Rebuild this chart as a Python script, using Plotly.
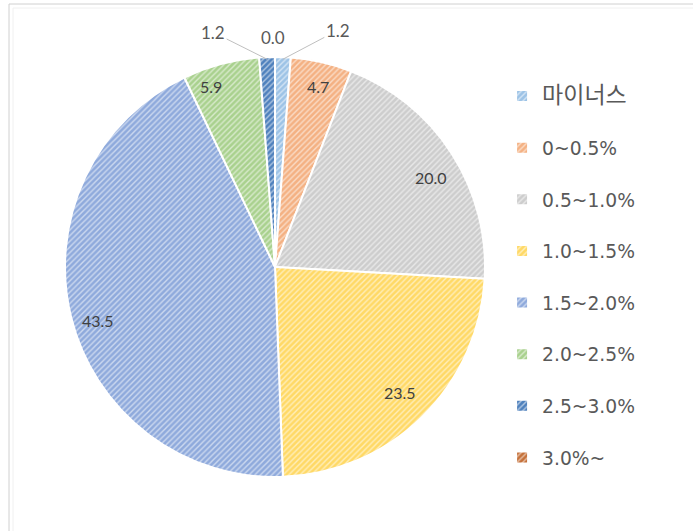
import math
import plotly.graph_objects as go

# ---- data ----
categories = ["마이너스", "0~0.5%", "0.5~1.0%", "1.0~1.5%", "1.5~2.0%", "2.0~2.5%", "2.5~3.0%", "3.0%~"]
values = [1.2, 4.7, 20.0, 23.5, 43.5, 5.9, 1.2, 0.0]
value_labels = ["1.2", "4.7", "20.0", "23.5", "43.5", "5.9", "1.2", "0.0"]

# ---- styles ----
colors = ["#9DC3E6", "#F4B183", "#CDCDCD", "#FFD966", "#8FAADC", "#A9D18E", "#4F81BD", "#C5713A"]
label_modes = ["out", "in", "in", "in", "in", "in", "out", "top"]
label_offsets = [(55, -29), None, None, None, None, None, (-54, -27), (-2, -22)]
label_nudges = [(0, 0), (3, -2), (2, 9), (-3, -5), (0, 10), (-17, -4), (0, 0), (0, 0)]

W, H = 693, 531
CX, CY, R = 275, 267, 210  # pie centre / radius in pixels (from top-left)

def legend_text(c):
    if any(ord(ch) > 0x3000 for ch in c):
        return " <br><span style='font-size:23px'>" + c + "</span>"
    return " <br>" + c

n = len(categories)
fig = go.Figure()
fig.add_trace(go.Pie(
    labels=[legend_text(c) for c in categories],
    values=values,
    sort=False,
    direction="clockwise",
    rotation=0,
    textinfo="none",
    hoverinfo="label+value",
    marker=dict(
        colors=colors,
        line=dict(color="white", width=2),
        pattern=dict(shape=["/"] * n, fgcolor=["rgba(255,255,255,0.55)"] * n,
                     bgcolor=colors, size=[4] * n, solidity=[0.35] * n),
    ),
    domain=dict(x=[(CX - R) / W, (CX + R) / W], y=[(H - CY - R) / H, (H - CY + R) / H]),
    showlegend=True,
))

total = sum(values)
cum = 0.0
annotations = []
for v, lab, mode, off, nud in zip(values, value_labels, label_modes, label_offsets, label_nudges):
    theta = 2 * math.pi * (cum + v / 2) / total
    cum += v
    if mode == "in":
        r = 0.87 * R
        px = CX + r * math.sin(theta) + nud[0]
        py = CY - r * math.cos(theta) + nud[1]
        annotations.append(dict(x=px / W, y=1 - py / H, xref="paper", yref="paper",
                                xanchor="center", yanchor="middle",
                                text=lab, showarrow=False,
                                font=dict(family="Lato, sans-serif", size=16, color="#404040")))
    else:
        r = 0.99 * R
        px = CX + r * math.sin(theta)
        py = CY - r * math.cos(theta)
        if mode == "top":
            annotations.append(dict(x=(px + off[0]) / W, y=1 - (py + off[1]) / H, xref="paper", yref="paper",
                                    xanchor="center", yanchor="middle",
                                    text=lab, showarrow=False,
                                    font=dict(family="Lato, sans-serif", size=17, color="#595959")))
        else:
            annotations.append(dict(x=px / W, y=1 - py / H, xref="paper", yref="paper",
                                    text=lab, showarrow=True, arrowhead=0, arrowwidth=1,
                                    arrowcolor="#BFBFBF", ax=off[0], ay=off[1],
                                    font=dict(family="Lato, sans-serif", size=17, color="#595959")))

shapes = [
    dict(type="line", xref="paper", yref="paper", x0=9 / W, x1=9 / W, y0=0, y1=1 - 4 / H,
         line=dict(color="#D0D0D0", width=1)),
    dict(type="line", xref="paper", yref="paper", x0=9 / W, x1=1, y0=1 - 4 / H, y1=1 - 4 / H,
         line=dict(color="#D0D0D0", width=1)),
    dict(type="line", xref="paper", yref="paper", x0=13 / W, x1=13 / W, y0=0, y1=1 - 8 / H,
         line=dict(color="#F0F0F0", width=1)),
    dict(type="line", xref="paper", yref="paper", x0=13 / W, x1=1, y0=1 - 8 / H, y1=1 - 8 / H,
         line=dict(color="#F0F0F0", width=1)),
]

fig.update_layout(
    width=W, height=H,
    margin=dict(l=0, r=0, t=0, b=0),
    paper_bgcolor="white",
    plot_bgcolor="white",
    annotations=annotations,
    shapes=shapes,
    legend=dict(
        x=0.7245, xanchor="left", y=0.90, yanchor="top",
        font=dict(family="DejaVu Sans, Noto Sans CJK KR, sans-serif", size=18.7, color="#595959"),
        valign="bottom",
        bgcolor="rgba(0,0,0,0)",
    ),
)

fig.write_html("out.html", config={"displayModeBar": False},
               post_script="document.body.style.margin='0px';")
